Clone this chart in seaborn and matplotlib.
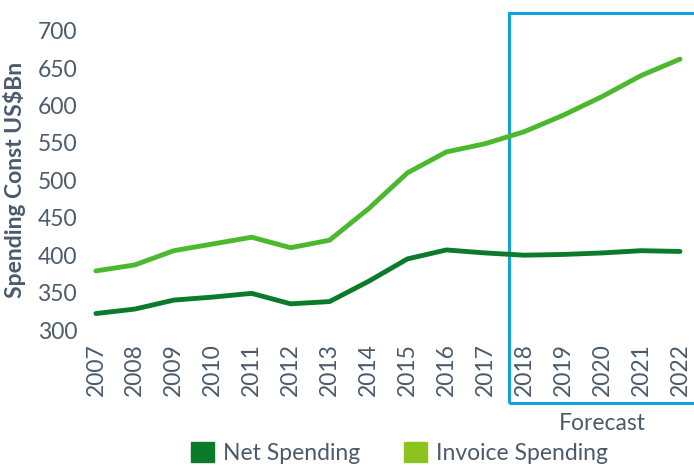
import numpy as np
import pandas as pd
import matplotlib
matplotlib.use("Agg")
import matplotlib.pyplot as plt
import matplotlib.transforms as mtransforms
from matplotlib.patches import Rectangle, Patch
import seaborn as sns

# Data
years = list(range(2007, 2023))
net_spending = [322, 328, 340, 344, 349, 335, 338, 365, 395, 407, 403, 400, 401, 403, 406, 405]
invoice_spending = [379, 387, 406, 415, 424, 410, 420, 462, 510, 538, 549, 565, 587, 612, 640, 662]
series_names = ["Net Spending", "Invoice Spending"]
line_colors = ["#0b7a2a", "#4cb82e"]
legend_colors = ["#0b7a2a", "#8dc21f"]

df = pd.DataFrame({
    "Year": years * 2,
    "Value": net_spending + invoice_spending,
    "Series": [series_names[0]] * len(years) + [series_names[1]] * len(years),
})

sns.set_theme(style="white")
plt.rcParams["font.family"] = ["Lato", "DejaVu Sans"]
text_color = "#4b5b6c"

fig = plt.figure(figsize=(6.94, 4.67), dpi=100)
ax = fig.add_axes([0.127, 0.2773, 0.8696, 0.673])

sns.lineplot(data=df, x="Year", y="Value", hue="Series", palette=line_colors,
             linewidth=3.5, ax=ax, legend=False)

ax.set_xlim(2006.8, 2022.3)
ax.set_ylim(290, 710)
ax.set_yticks(range(300, 701, 50))
ax.set_xticks(years)
ax.set_xticklabels([str(y) for y in years], rotation=90)
ax.tick_params(axis="both", length=0, labelsize=16.5, colors=text_color)
ax.tick_params(axis="y", pad=8)
ax.tick_params(axis="x", pad=4)
for s in ax.spines.values():
    s.set_visible(False)
ax.set_xlabel("")
ax.set_ylabel("Spending Const US$Bn", fontsize=16.5, fontweight="bold", color=text_color, labelpad=8)

# Forecast box
trans = mtransforms.blended_transform_factory(ax.transData, ax.transAxes)
y_bot = (467 - 403) / 467
y_top = (467 - 13) / 467
ax_bot, ax_h = 0.2773, 0.673
rect = Rectangle((2017.6, (y_bot - ax_bot) / ax_h), 2022.3 - 2017.6 + 0.3,
                 (y_top - y_bot) / ax_h, transform=trans, fill=False,
                 edgecolor="#12a3dc", linewidth=2.2, clip_on=False)
ax.add_patch(rect)
fig.text(602 / 694, 1 - 423 / 467, "Forecast", ha="center", va="center",
         fontsize=16.5, color=text_color)

handles = [Patch(facecolor=c, edgecolor=c) for c in legend_colors]
fig.legend(handles, series_names, loc="center", bbox_to_anchor=(0.576, 0.03),
           ncol=2, frameon=False, fontsize=16.5, handlelength=1.0, handleheight=1.0,
           handletextpad=0.4, columnspacing=1.9, labelcolor=text_color,
           borderpad=0.2)

fig.savefig("out.png", dpi=100)
